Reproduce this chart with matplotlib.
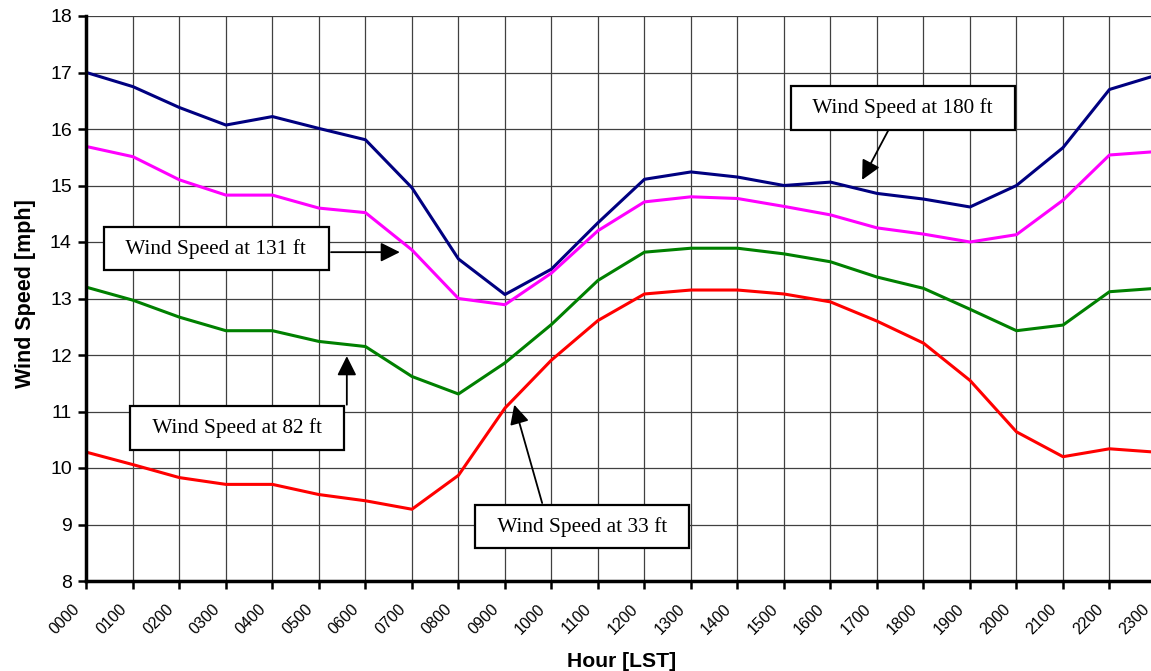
import matplotlib
matplotlib.use("Agg")
import matplotlib.pyplot as plt
from matplotlib.transforms import ScaledTranslation

hours = ["0000", "0100", "0200", "0300", "0400", "0500", "0600", "0700", "0800", "0900",
         "1000", "1100", "1200", "1300", "1400", "1500", "1600", "1700", "1800", "1900",
         "2000", "2100", "2200", "2300"]

ws_180 = [17.00, 16.75, 16.38, 16.07, 16.22, 16.01, 15.81, 14.96, 13.70, 13.07,
          13.52, 14.34, 15.11, 15.24, 15.15, 15.00, 15.06, 14.86, 14.76, 14.62,
          15.00, 15.67, 16.70, 16.95]
ws_131 = [15.69, 15.51, 15.10, 14.83, 14.83, 14.60, 14.52, 13.86, 13.00, 12.89,
          13.45, 14.20, 14.71, 14.80, 14.77, 14.63, 14.48, 14.25, 14.14, 14.00,
          14.13, 14.74, 15.54, 15.60]
ws_82 = [13.20, 12.97, 12.67, 12.43, 12.43, 12.24, 12.15, 11.62, 11.31, 11.86,
         12.54, 13.32, 13.82, 13.89, 13.89, 13.79, 13.65, 13.38, 13.18, 12.81,
         12.43, 12.53, 13.12, 13.18]
ws_33 = [10.28, 10.06, 9.83, 9.71, 9.71, 9.53, 9.42, 9.27, 9.87, 11.06,
         11.91, 12.61, 13.08, 13.15, 13.15, 13.08, 12.94, 12.60, 12.21, 11.55,
         10.64, 10.20, 10.34, 10.28]

labels = ["Wind Speed at 180 ft", "Wind Speed at 131 ft", "Wind Speed at 82 ft", "Wind Speed at 33 ft"]

W, H = 1151, 671
fig = plt.figure(figsize=(W / 100, H / 100), dpi=100)
left_px, right_px, top_px, bot_px = 86.4, 1156, 16, 581
ax = fig.add_axes([left_px / W, (H - bot_px) / H, (right_px - left_px) / W, (bot_px - top_px) / H])

x = list(range(len(hours)))
ax.plot(x, ws_180, color="#000080", lw=2.2, zorder=3)
ax.plot(x, ws_131, color="#FF00FF", lw=2.2, zorder=3)
ax.plot(x, ws_82, color="#008000", lw=2.2, zorder=3)
ax.plot(x, ws_33, color="#FF0000", lw=2.2, zorder=3)

ax.set_xlim(0, len(hours) - 1)
ax.set_ylim(8, 18)
ax.set_xticks(x)
ax.set_xticklabels(hours, rotation=45, ha="right", rotation_mode="anchor",
                   fontsize=11.5, family="Liberation Sans")
ax.set_yticks(range(8, 19))
ax.set_yticklabels([str(v) for v in range(8, 19)], fontsize=14, family="Liberation Sans")
ax.tick_params(axis="both", direction="out", length=5.5, width=1.8, color="black")
ax.tick_params(axis="x", pad=9)
ax.tick_params(axis="y", pad=5)
shift = ScaledTranslation(-0.14, 0, fig.dpi_scale_trans)
for lbl in ax.get_xticklabels():
    lbl.set_transform(lbl.get_transform() + shift)

ax.grid(True, color="#404040", lw=0.9)
ax.set_axisbelow(True)
for s in ["top", "right"]:
    ax.spines[s].set_visible(False)
for s in ["left", "bottom"]:
    ax.spines[s].set_linewidth(2.5)
    ax.spines[s].set_zorder(4)

ax.set_ylabel("Wind Speed [mph]", fontsize=15.5, fontweight="bold", family="Liberation Sans")
ax.set_xlabel("Hour [LST]", fontsize=15.2, fontweight="bold", family="Liberation Sans")
ax.yaxis.set_label_coords(-0.047, 0.508)
ax.xaxis.set_label_coords(0.5003, -0.126)

arrow_kw = dict(arrowstyle="-|>,head_length=0.9,head_width=0.45", mutation_scale=13,
                color="black", lw=1.3, shrinkA=0, shrinkB=0)

def note(text, center, tail, tip):
    ax.annotate("", xy=tip, xytext=tail, arrowprops=arrow_kw, zorder=5)
    ax.text(center[0], center[1], "  " + text + "  ", ha="center", va="center",
            fontsize=15.3, family="Liberation Serif", zorder=6,
            bbox=dict(boxstyle="square,pad=0.55", fc="white", ec="black", lw=1.6))

note(labels[0], (17.56, 16.37), (17.24, 15.97), (16.68, 15.10))
note(labels[1], (2.79, 13.88), (5.26, 13.82), (6.74, 13.82))
note(labels[2], (3.24, 10.71), (5.60, 11.12), (5.60, 11.98))
note(labels[3], (10.66, 8.96), (9.80, 9.38), (9.20, 11.12))

fig.savefig("out.png", dpi=100)
